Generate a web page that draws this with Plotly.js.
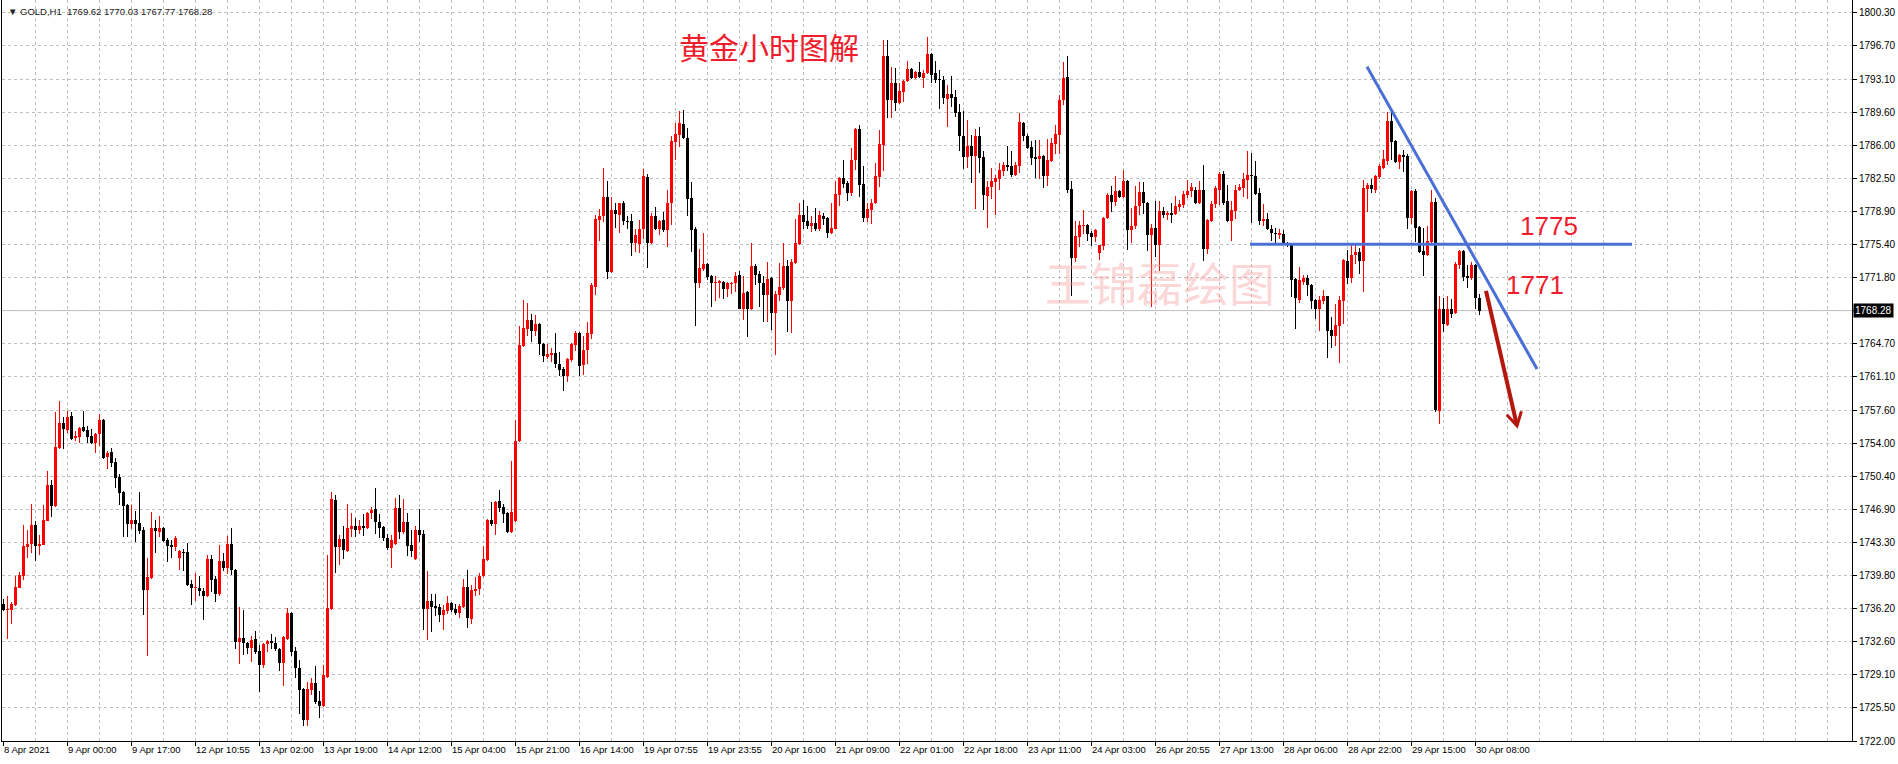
<!DOCTYPE html>
<html><head><meta charset="utf-8">
<script src="https://cdn.plot.ly/plotly-3.0.1.min.js"></script>
<style>html,body{margin:0;padding:0;background:#fff;overflow:hidden}#chart{width:1898px;height:764px}</style>
</head><body><div id="chart"></div>
<script>
// GOLD H1 candles, 8 Apr 2021 -> 30 Apr 2021 09:00
const openP = [
1736.7,1736.1,1736.1,1736.6,1738.5,1739.7,1742.9,1743.2,1745.2,1743.0,
1743.1,1745.7,1749.5,1747.3,1753.5,1756.2,1755.4,1756.9,1754.6,1754.7,
1755.8,1755.4,1754.8,1754.0,1755.0,1756.5,1752.5,1753.1,1752.0,1750.4,
1748.8,1747.4,1745.3,1745.8,1745.4,1744.7,1738.2,1739.5,1744.9,1744.5,
1744.9,1743.6,1743.1,1742.9,1741.7,1742.3,1742.3,1738.9,1738.4,1738.5,
1738.1,1737.6,1741.6,1739.4,1737.8,1741.4,1740.6,1743.2,1740.4,1732.6,
1733.1,1732.5,1732.0,1733.0,1731.7,1730.2,1732.4,1732.7,1732.5,1731.9,
1730.4,1733.0,1735.8,1731.7,1729.8,1727.6,1724.3,1727.5,1728.2,1726.3,
1725.8,1728.9,1736.2,1747.9,1742.9,1743.7,1742.4,1744.8,1745.1,1744.7,
1745.1,1744.9,1746.5,1746.9,1745.6,1745.0,1743.8,1742.7,1743.2,1747.1,
1744.5,1745.6,1743.1,1741.6,1744.7,1744.3,1736.2,1737.1,1736.5,1736.4,
1735.5,1736.0,1736.8,1736.2,1735.8,1736.4,1738.6,1735.1,1738.1,1738.3,
1739.7,1741.5,1745.8,1745.3,1747.8,1747.2,1746.5,1744.5,1745.7,1754.3,
1764.5,1766.3,1767.3,1766.1,1766.8,1764.7,1763.3,1763.5,1763.7,1762.5,
1762.0,1761.2,1763.0,1764.6,1765.9,1762.4,1764.0,1765.8,1770.8,1778.0,
1778.4,1780.5,1772.4,1779.1,1778.6,1779.8,1777.9,1777.9,1775.6,1775.4,
1777.0,1782.6,1775.5,1778.5,1777.1,1778.0,1776.9,1779.8,1786.4,1787.2,
1788.3,1786.8,1780.4,1777.0,1771.2,1772.8,1773.3,1772.0,1771.2,1771.3,
1771.4,1770.6,1771.1,1771.2,1772.1,1768.5,1770.3,1768.4,1773.1,1772.2,
1771.3,1770.0,1771.8,1768.0,1770.0,1770.7,1773.1,1769.3,1773.4,1775.4,
1778.6,1777.9,1777.4,1777.7,1777.1,1778.5,1778.2,1776.6,1777.1,1780.7,
1782.5,1782.0,1780.9,1784.5,1787.8,1781.9,1778.2,1779.1,1779.8,1782.6,
1786.1,1795.7,1790.9,1792.7,1790.6,1791.8,1793.0,1794.3,1793.3,1793.9,
1793.3,1793.8,1795.9,1793.8,1793.2,1793.1,1791.0,1791.6,1791.2,1789.6,
1787.1,1784.8,1786.0,1784.9,1787.0,1784.8,1780.6,1781.6,1782.1,1782.4,
1783.3,1783.9,1783.8,1782.9,1783.8,1788.5,1787.1,1785.9,1784.8,1784.6,
1784.9,1782.8,1784.4,1786.2,1787.2,1790.9,1793.4,1781.4,1773.9,1776.2,
1777.4,1777.5,1776.6,1776.2,1774.5,1775.2,1778.2,1780.7,1780.0,1781.1,
1780.5,1782.2,1776.9,1777.4,1779.5,1781.0,1779.9,1776.4,1777.2,1775.3,
1779.0,1778.6,1778.8,1778.7,1779.4,1779.6,1780.7,1781.1,1781.3,1779.8,
1781.2,1774.9,1777.9,1779.7,1781.3,1783.0,1780.1,1777.9,1779.0,1781.2,
1781.5,1782.3,1782.9,1782.8,1780.9,1777.9,1778.1,1777.1,1776.6,1776.4,
1776.5,1775.6,1775.4,1771.7,1769.4,1771.4,1771.8,1771.0,1769.4,1768.4,
1769.3,1769.8,1766.2,1765.6,1766.6,1769.3,1773.6,1771.8,1774.3,1774.6,
1773.6,1781.4,1781.8,1781.3,1782.6,1783.6,1784.4,1788.7,1786.5,1784.3,
1785.0,1784.9,1778.2,1781.1,1777.3,1774.7,1774.3,1775.7,1780.0,1757.5,
1768.5,1766.7,1768.5,1768.0,1773.2,1774.7,1772.0,1771.8,1773.2,1769.62];
const highP = [
1737.3,1737.6,1736.9,1739.7,1740.2,1745.2,1744.7,1747.5,1745.7,1744.2,
1747.4,1751.0,1750.1,1757.4,1758.6,1756.8,1757.5,1757.4,1755.3,1755.8,
1757.5,1755.9,1755.6,1755.1,1757.2,1756.6,1753.2,1753.5,1752.4,1750.7,
1748.9,1747.5,1747.4,1746.7,1748.8,1745.0,1741.7,1746.6,1745.8,1746.2,
1745.0,1743.8,1743.6,1744.0,1742.5,1742.6,1743.3,1739.3,1740.1,1739.7,
1738.4,1742.0,1742.0,1739.7,1743.1,1742.2,1744.0,1744.9,1740.5,1736.4,
1736.1,1732.6,1733.3,1733.8,1732.3,1732.5,1732.9,1733.5,1733.2,1732.0,
1733.3,1736.3,1735.9,1732.1,1730.7,1727.7,1728.3,1728.8,1730.1,1727.4,
1730.2,1742.0,1748.8,1748.4,1744.1,1745.1,1747.5,1746.5,1746.0,1745.8,
1746.4,1746.6,1747.2,1749.2,1746.4,1745.1,1744.3,1744.2,1748.1,1748.5,
1748.0,1746.5,1744.7,1745.1,1747.0,1744.7,1740.3,1737.8,1737.8,1736.7,
1736.6,1737.6,1737.0,1736.7,1736.7,1739.4,1740.4,1738.8,1739.6,1740.1,
1743.0,1745.9,1747.7,1747.8,1749.0,1747.5,1746.6,1752.1,1756.5,1766.6,
1769.4,1769.1,1767.9,1767.8,1766.9,1764.8,1764.7,1764.3,1765.9,1763.8,
1762.2,1763.2,1764.8,1766.1,1766.0,1765.6,1767.1,1771.2,1778.6,1779.2,
1783.6,1782.2,1780.5,1779.8,1779.9,1780.1,1778.4,1778.7,1777.0,1778.0,
1783.5,1783.0,1778.8,1779.4,1778.0,1778.9,1781.2,1787.0,1788.4,1789.7,
1789.8,1787.9,1782.1,1777.3,1774.9,1776.6,1773.4,1772.1,1772.0,1771.6,
1771.5,1771.4,1771.4,1772.4,1772.5,1772.0,1770.4,1775.5,1773.3,1772.5,
1772.0,1773.5,1771.9,1770.4,1773.4,1775.5,1773.7,1773.8,1778.1,1779.8,
1780.2,1779.5,1778.5,1779.3,1779.0,1778.8,1778.3,1779.9,1782.2,1782.6,
1784.5,1782.2,1785.8,1787.9,1788.2,1783.8,1779.9,1780.3,1784.1,1787.7,
1797.4,1797.4,1794.5,1794.4,1792.8,1793.1,1795.1,1794.4,1794.0,1795.0,
1794.2,1797.7,1796.0,1795.1,1794.2,1793.5,1792.5,1793.5,1792.0,1790.5,
1789.7,1788.8,1787.2,1787.8,1788.0,1785.4,1782.2,1783.6,1782.9,1784.1,
1784.3,1786.0,1785.4,1784.3,1789.5,1788.6,1787.3,1786.5,1786.6,1786.6,
1785.0,1786.7,1786.8,1788.2,1791.5,1795.0,1795.7,1782.2,1777.9,1777.9,
1779.1,1777.6,1776.8,1777.0,1775.3,1778.3,1780.9,1781.7,1782.8,1781.2,
1783.4,1782.3,1779.3,1781.7,1782.1,1782.1,1780.0,1777.6,1780.1,1780.1,
1779.4,1779.0,1779.8,1780.6,1780.2,1781.1,1782.3,1782.0,1781.6,1782.2,
1783.9,1778.1,1780.1,1781.7,1783.2,1783.3,1781.8,1780.1,1781.8,1781.9,
1783.1,1785.4,1785.2,1784.4,1781.5,1779.7,1778.8,1777.5,1777.2,1777.0,
1776.9,1775.7,1775.5,1771.8,1773.0,1772.1,1772.1,1771.1,1769.5,1769.9,
1770.5,1769.9,1767.6,1769.0,1769.9,1773.8,1774.8,1775.4,1775.4,1775.0,
1782.3,1782.0,1782.4,1782.9,1784.0,1785.5,1789.6,1789.6,1786.6,1785.1,
1785.6,1785.1,1781.2,1781.4,1777.4,1777.2,1777.4,1781.2,1780.4,1769.9,
1769.6,1769.9,1769.5,1773.5,1774.8,1774.8,1773.2,1773.5,1773.3,1770.03];
const lowP = [
1736.0,1733.0,1734.6,1736.5,1738.5,1739.3,1741.7,1742.2,1741.4,1742.0,
1743.1,1745.7,1746.1,1747.2,1753.4,1753.4,1755.1,1754.4,1754.3,1754.0,
1755.2,1754.0,1753.9,1753.0,1753.7,1752.3,1751.3,1751.5,1749.2,1747.4,
1743.9,1743.9,1744.8,1743.4,1744.3,1735.6,1731.1,1739.4,1742.2,1743.9,
1743.4,1741.2,1741.7,1742.4,1740.4,1740.3,1738.7,1736.6,1737.1,1737.6,
1735.0,1737.5,1738.0,1736.9,1737.6,1740.3,1740.0,1739.8,1731.9,1730.3,
1731.3,1731.4,1730.5,1731.4,1727.3,1729.8,1731.6,1731.9,1731.7,1729.5,
1727.9,1732.9,1731.1,1728.8,1724.9,1723.6,1723.6,1726.9,1726.0,1724.5,
1725.7,1728.8,1736.1,1740.1,1740.9,1741.6,1742.3,1743.9,1743.9,1744.3,
1744.0,1744.8,1745.9,1744.3,1743.8,1743.5,1742.5,1740.6,1743.1,1743.7,
1744.3,1741.9,1741.8,1741.5,1743.4,1733.9,1732.9,1733.7,1735.4,1734.8,
1733.9,1735.7,1735.9,1735.6,1735.2,1736.3,1734.2,1734.6,1737.6,1737.7,
1739.6,1741.4,1745.1,1744.1,1746.6,1745.4,1744.4,1744.4,1745.6,1754.2,
1764.4,1765.5,1764.9,1765.5,1763.5,1762.8,1763.1,1762.7,1762.1,1761.3,
1759.6,1760.6,1762.7,1763.9,1761.3,1761.4,1762.5,1765.2,1770.0,1775.8,
1777.8,1771.7,1772.3,1777.2,1776.6,1777.5,1777.1,1774.2,1774.6,1774.5,
1776.0,1772.9,1775.4,1776.9,1776.4,1776.7,1775.1,1777.5,1784.5,1785.9,
1786.7,1778.4,1774.6,1766.6,1770.7,1772.5,1771.6,1768.7,1769.3,1769.6,
1769.5,1769.7,1770.1,1770.3,1768.4,1767.3,1765.4,1768.3,1771.0,1768.7,
1767.1,1767.1,1766.2,1763.5,1769.3,1770.5,1766.0,1765.9,1773.3,1775.3,
1777.1,1777.1,1776.7,1776.8,1776.8,1777.5,1776.1,1776.5,1777.0,1779.5,
1781.5,1780.1,1780.6,1783.4,1780.5,1777.8,1777.8,1777.6,1779.7,1781.6,
1783.3,1789.0,1789.0,1789.7,1790.5,1790.7,1792.9,1793.2,1793.2,1793.3,
1792.2,1793.7,1792.8,1792.7,1790.0,1790.5,1788.0,1790.2,1789.1,1785.4,
1783.5,1783.6,1782.0,1779.2,1783.1,1779.1,1777.2,1780.3,1778.6,1781.3,
1782.8,1783.3,1782.6,1782.7,1783.1,1786.5,1785.7,1783.9,1782.5,1782.4,
1781.5,1781.7,1784.3,1785.1,1785.1,1790.4,1780.9,1769.9,1773.5,1775.1,
1776.5,1775.8,1775.2,1775.7,1773.7,1774.8,1778.1,1778.9,1779.5,1780.4,
1780.4,1774.8,1775.5,1777.0,1778.6,1778.7,1774.7,1768.7,1774.0,1772.5,
1778.2,1778.0,1777.7,1778.6,1779.0,1779.3,1780.4,1780.5,1779.7,1779.7,
1773.6,1774.4,1777.8,1779.3,1779.6,1779.6,1777.8,1775.8,1778.1,1781.1,
1780.5,1780.3,1777.7,1780.7,1777.5,1777.4,1776.9,1775.8,1775.3,1776.0,
1775.5,1775.1,1769.7,1766.3,1769.1,1771.0,1769.9,1768.4,1767.4,1766.1,
1769.0,1763.2,1764.3,1764.5,1762.6,1766.8,1771.1,1771.3,1773.3,1772.2,
1770.3,1778.9,1780.9,1780.9,1782.4,1783.5,1783.9,1784.5,1784.2,1783.5,
1783.2,1777.0,1777.6,1775.7,1774.5,1772.0,1774.1,1775.6,1757.4,1756.1,
1766.0,1766.6,1767.5,1767.9,1772.8,1771.5,1770.7,1771.6,1768.4,1767.77];
const closeP = [
1736.1,1736.2,1736.7,1738.6,1739.8,1743.0,1743.2,1745.2,1743.0,1743.2,
1745.8,1749.5,1747.3,1753.6,1756.2,1755.5,1756.8,1754.5,1754.8,1755.7,
1755.3,1754.7,1754.0,1755.0,1756.5,1752.4,1753.0,1751.9,1750.3,1748.7,
1747.3,1745.3,1745.8,1745.3,1744.6,1738.2,1739.6,1744.9,1744.6,1744.9,
1743.5,1743.0,1742.9,1743.8,1742.4,1742.2,1738.8,1738.4,1738.5,1738.1,
1737.6,1741.6,1739.3,1737.8,1741.4,1740.6,1743.2,1740.4,1732.6,1733.1,
1732.5,1732.0,1732.9,1731.6,1730.2,1732.4,1732.8,1732.5,1731.9,1730.4,
1733.2,1735.8,1731.6,1729.8,1727.5,1724.3,1727.6,1728.2,1726.2,1725.8,
1729.1,1736.3,1748.0,1742.9,1743.7,1742.5,1744.9,1745.1,1744.7,1745.1,
1744.9,1746.5,1746.8,1745.6,1744.9,1743.8,1742.7,1743.6,1747.1,1744.5,
1745.6,1743.0,1742.4,1744.7,1744.1,1736.2,1737.1,1736.4,1736.3,1735.5,
1736.1,1736.8,1736.1,1735.8,1736.5,1738.6,1735.2,1738.2,1738.3,1739.7,
1741.6,1745.8,1745.3,1747.7,1747.1,1746.4,1744.5,1746.6,1754.3,1764.6,
1766.4,1767.3,1766.1,1766.8,1764.7,1763.4,1763.6,1763.7,1762.5,1761.9,
1761.2,1763.1,1764.7,1765.9,1762.3,1764.0,1765.9,1771.0,1778.1,1778.4,
1780.5,1772.4,1779.1,1778.7,1779.8,1777.9,1777.8,1775.6,1776.4,1777.1,
1782.7,1775.5,1778.5,1777.1,1777.9,1776.9,1779.9,1786.5,1787.3,1788.4,
1786.8,1780.3,1776.9,1771.2,1772.9,1773.3,1771.9,1771.2,1771.4,1771.4,
1770.6,1771.2,1771.3,1772.0,1768.5,1770.2,1768.4,1773.1,1772.1,1771.2,
1770.0,1771.7,1768.0,1770.1,1770.8,1773.1,1769.3,1773.5,1775.5,1778.6,
1777.8,1777.4,1777.7,1777.1,1778.6,1778.1,1776.6,1777.2,1780.8,1782.5,
1781.9,1780.9,1784.5,1787.8,1781.8,1778.2,1779.2,1779.9,1782.7,1786.2,
1795.7,1790.9,1792.7,1790.6,1791.9,1793.0,1794.3,1793.3,1793.9,1793.4,
1793.8,1795.9,1793.6,1793.1,1793.1,1791.1,1791.6,1791.1,1789.5,1787.0,
1784.8,1786.0,1784.9,1787.0,1784.7,1780.7,1781.6,1782.2,1782.5,1783.4,
1783.9,1783.7,1782.9,1783.9,1788.6,1787.0,1785.8,1784.7,1784.6,1784.9,
1782.8,1784.5,1786.3,1787.3,1790.9,1793.3,1781.3,1773.9,1776.3,1777.5,
1777.5,1776.5,1776.2,1776.9,1775.3,1778.2,1780.7,1780.0,1781.1,1780.5,
1782.2,1776.9,1777.4,1779.5,1781.0,1779.9,1776.4,1777.2,1775.3,1779.0,
1778.6,1778.8,1778.6,1779.5,1779.7,1780.8,1781.1,1781.6,1779.8,1781.2,
1774.9,1778.0,1779.7,1781.5,1783.0,1779.8,1777.9,1779.1,1781.3,1781.6,
1782.4,1782.9,1782.7,1780.8,1777.9,1778.1,1777.0,1776.6,1776.5,1776.6,
1775.6,1775.3,1771.6,1769.6,1771.6,1771.8,1771.0,1769.3,1768.4,1769.4,
1769.8,1766.1,1765.6,1766.7,1769.4,1773.7,1771.8,1774.3,1774.6,1773.6,
1781.5,1781.8,1781.4,1782.7,1783.8,1784.6,1788.7,1786.4,1784.3,1785.0,
1784.8,1778.2,1781.1,1777.2,1774.6,1774.3,1775.8,1780.0,1757.6,1768.5,
1766.8,1768.5,1767.9,1773.3,1774.7,1771.9,1771.8,1773.2,1769.6,1768.28];

// time axis labels (bar index -> label)
const xTickIndex = [0,16,32,48,64,80,96,112,128,144,160,176,192,208,224,240,256,272,288,304,320,336,352,368];
const xTickLabels = ["8 Apr 2021","9 Apr 00:00","9 Apr 17:00","12 Apr 10:55","13 Apr 02:00","13 Apr 19:00",
 "14 Apr 12:00","15 Apr 04:00","15 Apr 21:00","16 Apr 14:00","19 Apr 07:55","19 Apr 23:55","20 Apr 16:00",
 "21 Apr 09:00","22 Apr 01:00","22 Apr 18:00","23 Apr 11:00","24 Apr 03:00","26 Apr 20:55","27 Apr 13:00",
 "28 Apr 06:00","28 Apr 22:00","29 Apr 15:00","30 Apr 08:00"];
// price axis labels (evenly spaced grid, top to bottom)
const yTickLabels = ["1800.30","1796.70","1793.10","1789.60","1786.00","1782.50","1778.90","1775.40","1771.80","",
 "1764.70","1761.10","1757.60","1754.00","1750.40","1746.90","1743.30","1739.80","1736.20","1732.60","1729.10","1725.50","1722.00"];
const yTop = 1800.30, yBottom = 1722.00;
const lastPrice = 1768.28;
const header = "GOLD,H1  1769.62 1770.03 1767.77 1768.28";

// analyst drawings (bar index, price)
const levelLine = [311.75, 407.25, 1775.4];
const trendLine = [[341, 1794.5], [383.5, 1762.0]];
const arrowLine = [[370.75, 1770.4], [378.5, 1755.9]];
const levelTexts = ["1775", "1771"];

const idx = openP.map((_, i) => i);
const up = openP.map((o, i) => closeP[i] >= o);
const colors = up.map(u => u ? '#ff0000' : '#000000');

const wick = {
  type: 'bar', x: idx, base: lowP, y: highP.map((h, i) => h - lowP[i]),
  width: 0.25, marker: {color: colors, line: {width: 0}}, hoverinfo: 'skip', showlegend: false
};
const body = {
  type: 'bar', x: idx, base: openP.map((o, i) => Math.min(o, closeP[i])),
  y: openP.map((o, i) => Math.max(Math.abs(closeP[i] - o), 0.11)),
  width: 0.75, marker: {color: colors, line: {width: 0}}, hoverinfo: 'skip', showlegend: false
};

const step = (yTop - yBottom) / (yTickLabels.length - 1);
const yTickVals = yTickLabels.map((_, k) => yTop - k * step);
const yMax = yTop + 12.8 / (728.2 / (yTop - yBottom));

// arrow head (open chevron) computed in screen space then mapped to axis units
const pxX = 4, pxY = 741 / (yMax - yBottom);
const [tail, tip] = arrowLine;
const dx = (tip[0] - tail[0]) * pxX, dy = -(tip[1] - tail[1]) * pxY;
const len = Math.hypot(dx, dy), ux = -dx / len, uy = -dy / len;
const headLen = 15, ang = Math.PI / 6;
function barb(s) {
  const c = Math.cos(ang), sn = Math.sin(s * ang);
  const bx = ux * c - uy * sn, by = ux * sn + uy * c;
  return [tip[0] + bx * headLen / pxX, tip[1] - by * headLen / pxY];
}
const b1 = barb(1), b2 = barb(-1);

const grid = '#c0c0c0';
const tickFont = {family: 'Liberation Sans, Arial, sans-serif', size: 10, color: '#000'};
const red = '#f01d2c';
const arrowColor = '#b5170f';

const layout = {
  width: 1898, height: 764,
  margin: {l: 2, r: 46, t: 0, b: 23},
  paper_bgcolor: '#fff', plot_bgcolor: '#fff',
  barmode: 'overlay', bargap: 0, bargroupgap: 0,
  showlegend: false,
  font: tickFont,
  xaxis: {
    range: [-0.25, 462.25], fixedrange: true,
    tickmode: 'array', tickvals: xTickIndex, ticktext: xTickLabels,
    ticklabelposition: 'outside right', tickangle: 0,
    ticks: 'outside', ticklen: 4, tickcolor: '#000',
    tickfont: {family: 'Liberation Sans, Arial, sans-serif', size: 9.5, color: '#000'},
    showgrid: true, gridcolor: grid, griddash: '3px,3px', gridwidth: 1,
    minor: {tickmode: 'linear', tick0: 0, dtick: 8, showgrid: true, gridcolor: grid, griddash: '3px,3px', ticks: ''},
    showline: true, linecolor: '#000', linewidth: 1, zeroline: false
  },
  yaxis: {
    side: 'right', range: [yBottom, yMax], fixedrange: true,
    tickmode: 'array', tickvals: yTickVals, ticktext: yTickLabels,
    ticks: 'outside', ticklen: 4, tickcolor: '#000', tickfont: tickFont,
    showgrid: true, gridcolor: grid, griddash: '3px,3px', gridwidth: 1,
    showline: true, mirror: true, linecolor: '#000', linewidth: 1, zeroline: false
  },
  shapes: [
    {type: 'line', xref: 'paper', yref: 'y', x0: 0, x1: 1, y0: lastPrice, y1: lastPrice,
     line: {color: '#c0c0c0', width: 1}, layer: 'below'},
    {type: 'line', xref: 'x', yref: 'y', x0: levelLine[0], x1: levelLine[1], y0: levelLine[2], y1: levelLine[2],
     line: {color: '#4a70d6', width: 3}},
    {type: 'line', xref: 'x', yref: 'y', x0: trendLine[0][0], y0: trendLine[0][1], x1: trendLine[1][0], y1: trendLine[1][1],
     line: {color: '#4a70d6', width: 3}},
    {type: 'line', xref: 'x', yref: 'y', x0: tail[0], y0: tail[1], x1: tip[0], y1: tip[1],
     line: {color: arrowColor, width: 4}},
    {type: 'path', xref: 'x', yref: 'y',
     path: `M${b1[0]},${b1[1]} L${tip[0]},${tip[1]} L${b2[0]},${b2[1]}`,
     line: {color: arrowColor, width: 3}}
  ],
  annotations: [
    {xref: 'paper', yref: 'y', x: 1, xanchor: 'left', xshift: 1, y: lastPrice, yanchor: 'middle',
     text: lastPrice.toFixed(2), showarrow: false, bgcolor: '#000', borderpad: 1,
     font: {family: 'Liberation Sans, Arial, sans-serif', size: 10, color: '#fff'}},
    {xref: 'paper', yref: 'paper', x: 0.0022, y: 0.984, xanchor: 'left', yanchor: 'middle',
     text: '▼ ' + header, showarrow: false,
     font: {family: 'Liberation Sans, Arial, sans-serif', size: 9.5, color: '#222'}},
    {xref: 'paper', yref: 'paper', x: (769 - 2) / 1850, y: (741 - 46) / 741, xanchor: 'center', yanchor: 'middle',
     text: '黄金小时图解', showarrow: false,
     font: {family: 'Noto Sans CJK SC, sans-serif', size: 30, color: red}},
    {xref: 'paper', yref: 'paper', x: (1160 - 2) / 1850, y: (741 - 281) / 741, xanchor: 'center', yanchor: 'middle',
     text: '王锦磊绘图', showarrow: false,
     font: {family: 'Noto Sans CJK SC, sans-serif', size: 46, color: 'rgba(245,150,150,0.4)'}},
    {xref: 'paper', yref: 'paper', x: (1549 - 2) / 1850, y: (741 - 226) / 741, xanchor: 'center', yanchor: 'middle',
     text: levelTexts[0], showarrow: false,
     font: {family: 'Liberation Sans, Arial, sans-serif', size: 26, color: red}},
    {xref: 'paper', yref: 'paper', x: (1535 - 2) / 1850, y: (741 - 285) / 741, xanchor: 'center', yanchor: 'middle',
     text: levelTexts[1], showarrow: false,
     font: {family: 'Liberation Sans, Arial, sans-serif', size: 26, color: red}}
  ]
};

Plotly.newPlot('chart', [wick, body], layout, {displayModeBar: false, staticPlot: true});
</script>
</body></html>
